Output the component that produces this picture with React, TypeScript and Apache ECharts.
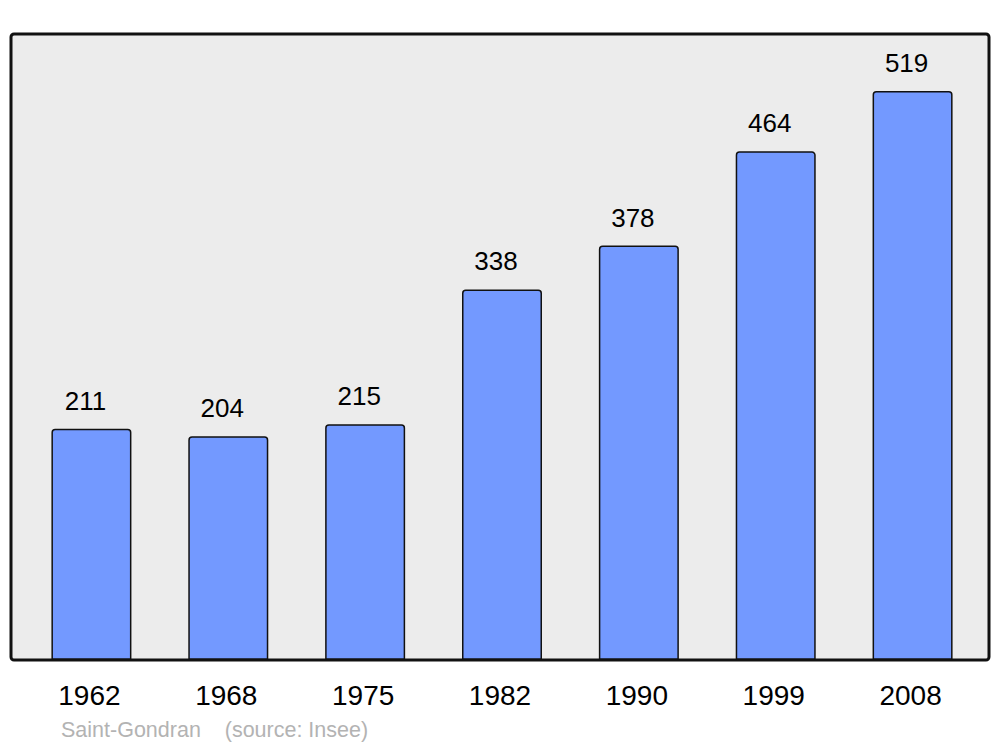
import React, { useEffect, useRef } from "react";
import * as echarts from "echarts";

const years = ["1962", "1968", "1975", "1982", "1990", "1999", "2008"];
const population = [211, 204, 215, 338, 378, 464, 519];
const sourceText = "Saint-Gondran    (source: Insee)";

export default function App() {
  const ref = useRef<HTMLDivElement>(null);
  useEffect(() => {
    const chart = echarts.init(ref.current!, null, { renderer: "svg" });
    chart.setOption({
      animation: false,
      textStyle: { fontFamily: "Liberation Sans, Arial, sans-serif" },
      grid: { left: 23, right: 19, top: 34, bottom: 87 },
      xAxis: {
        type: "category",
        data: years,
        axisLine: { show: false },
        axisTick: { show: false },
        axisLabel: {
          fontSize: 28,
          color: "#000",
          margin: 21,
          padding: [0, 4, 0, 0],
          fontFamily: "Liberation Sans, Arial, sans-serif",
        },
      },
      yAxis: {
        type: "value",
        min: 0,
        max: 571,
        show: false,
        splitLine: { show: false },
      },
      graphic: [
        {
          type: "rect",
          z: -10,
          shape: { x: 11, y: 34, width: 978, height: 626, r: 3 },
          style: { fill: "#ececec", stroke: "none" },
        },
        {
          type: "rect",
          z: 100,
          shape: { x: 11, y: 34, width: 978, height: 626, r: 3 },
          style: { fill: "none", stroke: "#111", lineWidth: 3 },
        },
        {
          type: "text",
          x: 61,
          y: 730,
          style: {
            text: sourceText,
            fill: "#b3b3b3",
            fontSize: 21.5,
            fontFamily: "Liberation Sans, Arial, sans-serif",
            verticalAlign: "middle",
            align: "left",
          },
        },
      ],
      series: [
        {
          type: "bar",
          data: population,
          barWidth: 80,
          itemStyle: {
            color: "#7399ff",
            borderColor: "#111",
            borderWidth: 1.5,
            borderRadius: [3, 3, 0, 0],
          },
          label: {
            show: true,
            position: "top",
            distance: 15,
            offset: [-6, 0],
            fontSize: 26,
            color: "#000",
            fontFamily: "Liberation Sans, Arial, sans-serif",
          },
        },
      ],
    });
    return () => chart.dispose();
  }, []);
  return <div ref={ref} style={{ width: 1000, height: 747, position: "absolute", left: 0, top: 0 }} />;
}
